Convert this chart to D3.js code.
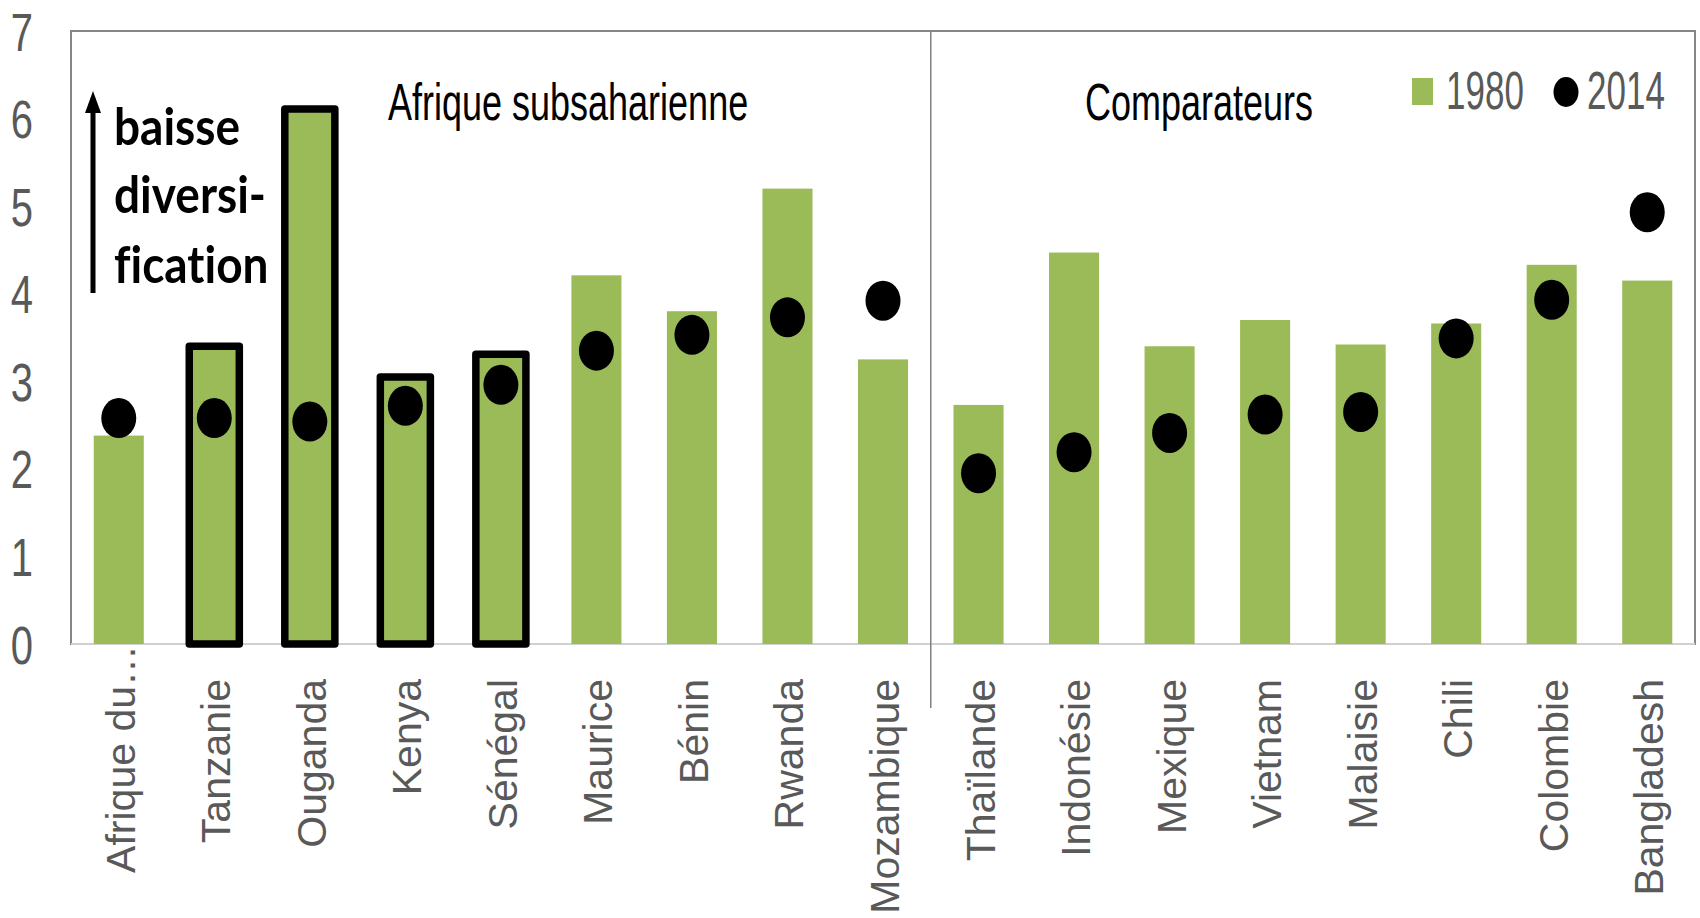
<!DOCTYPE html>
<html><head><meta charset="utf-8">
<script src="https://cdn.jsdelivr.net/npm/d3@7"></script>
<style>html,body{margin:0;padding:0;background:#fff;} svg{display:block} text{font-variant-ligatures:none;font-feature-settings:"liga" 0;}</style>
</head><body>
<svg id="chart" width="1700" height="918"></svg>
<script>
// ---- data ----
const categories = ["Afrique du…","Tanzanie","Ouganda","Kenya","Sénégal","Maurice","Bénin","Rwanda","Mozambique","Thaïlande","Indonésie","Mexique","Vietnam","Malaisie","Chili","Colombie","Bangladesh"];
const values1980 = [2.38,3.40,6.11,3.05,3.31,4.21,3.80,5.20,3.25,2.73,4.47,3.40,3.70,3.42,3.66,4.33,4.15];
const values2014 = [2.58,2.58,2.54,2.72,2.96,3.35,3.53,3.73,3.92,1.95,2.19,2.41,2.62,2.65,3.49,3.93,4.93];
const highlighted = ["Tanzanie","Ouganda","Kenya","Sénégal"];
const groupNames = ["Afrique subsaharienne","Comparateurs"];
const yTicks = [0,1,2,3,4,5,6,7];
const seriesNames = ["1980","2014"];
const annotationLines = ["baisse","diversi-","fication"];

// ---- layout ----
const svg = d3.select("#chart");
const L = 71, R = 1695, T = 31, B = 644;
const x = d3.scaleBand().domain(categories).range([L, R]).paddingInner(0.476).paddingOuter(0.238);
const y = d3.scaleLinear().domain([0, 7]).range([B, T]);
const green = "#9BBB59";
const gray = "#595959";
const font = "'Liberation Sans', Arial, sans-serif";

// frame
svg.append("rect").attr("x", L).attr("y", T).attr("width", R - L).attr("height", B - T)
  .attr("fill", "none").attr("stroke", "#868686").attr("stroke-width", 2);
svg.append("line").attr("x1", L).attr("x2", R).attr("y1", B).attr("y2", B)
  .attr("stroke", "#d0d0d0").attr("stroke-width", 2);

// divider between groups
const divX = (x(categories[8]) + x.bandwidth() + x(categories[9])) / 2;
svg.append("line").attr("x1", divX).attr("x2", divX).attr("y1", T).attr("y2", 708)
  .attr("stroke", "#808080").attr("stroke-width", 1.5);

// bars 1980
svg.append("g").selectAll("rect").data(categories).join("rect")
  .attr("x", d => x(d))
  .attr("y", (d, i) => y(values1980[i]))
  .attr("width", x.bandwidth())
  .attr("height", (d, i) => y(0) - y(values1980[i]))
  .attr("fill", green)
  .attr("stroke", d => highlighted.includes(d) ? "#000" : "none")
  .attr("stroke-width", 7.5)
  .attr("stroke-linejoin", "round");

// dots 2014
svg.append("g").selectAll("ellipse").data(categories).join("ellipse")
  .attr("cx", d => x(d) + x.bandwidth() / 2)
  .attr("cy", (d, i) => y(values2014[i]))
  .attr("rx", 17.5).attr("ry", 20)
  .attr("fill", "#000");

// y axis
const yAxis = svg.append("g").attr("transform", `translate(${L},0)`)
  .call(d3.axisLeft(y).tickValues(yTicks).tickSize(0).tickFormat(d3.format("d")));
yAxis.select(".domain").remove();
yAxis.selectAll("text")
  .attr("x", null).attr("dy", null)
  .attr("transform", "translate(-38,19) scale(1,1.35)")
  .attr("text-anchor", "end")
  .attr("font-family", font).attr("font-size", 40).attr("fill", gray);

// x axis (category labels)
const xAxis = svg.append("g").attr("transform", `translate(0,${B})`)
  .call(d3.axisBottom(x).tickSize(0));
xAxis.select(".domain").remove();
xAxis.selectAll("text")
  .attr("y", null).attr("dy", null)
  .attr("transform", d => `translate(16,${d.endsWith("…") ? 1 : 35}) rotate(-90)`)
  .attr("text-anchor", "end")
  .attr("font-family", font).attr("font-size", 41).attr("fill", gray);

// group titles
const groupX = [388, 1085];
groupNames.forEach((g, i) => {
  svg.append("text").attr("transform", `translate(${groupX[i]},120) scale(1,1.45)`)
    .attr("font-family", font).attr("font-size", 36).attr("fill", "#000").text(g);
});

// legend
svg.append("rect").attr("x", 1412).attr("y", 78).attr("width", 21).attr("height", 27).attr("fill", green);
svg.append("text").attr("transform", "translate(1446,109) scale(1,1.55)")
  .attr("font-family", font).attr("font-size", 35).attr("fill", gray).text(seriesNames[0]);
svg.append("ellipse").attr("cx", 1566).attr("cy", 92).attr("rx", 12.5).attr("ry", 15).attr("fill", "#000");
svg.append("text").attr("transform", "translate(1587,109) scale(1,1.55)")
  .attr("font-family", font).attr("font-size", 35).attr("fill", gray).text(seriesNames[1]);

// annotation arrow and text
svg.append("line").attr("x1", 93).attr("x2", 93).attr("y1", 293).attr("y2", 108)
  .attr("stroke", "#000").attr("stroke-width", 5);
svg.append("path").attr("d", "M93,91 L85,113 L101,113 Z").attr("fill", "#000");
const baselines = [145, 213, 283];
annotationLines.forEach((t, i) => {
  svg.append("text").attr("transform", `translate(114,${baselines[i]}) scale(1,1.1)`)
    .attr("font-family", "Lato, 'Open Sans', sans-serif")
    .attr("font-weight", 700).attr("font-size", 46).attr("fill", "#000").text(t);
});
</script>
</body></html>
